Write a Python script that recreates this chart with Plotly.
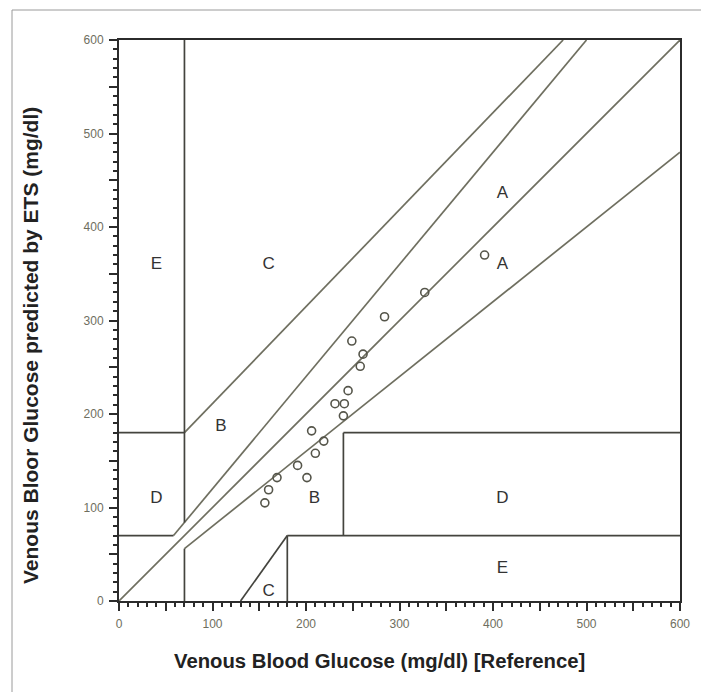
import plotly.graph_objects as go

# Measured data points (reference vs predicted)
ref_x = [156, 160, 169, 191, 201, 206, 210, 219, 231, 241, 240, 245, 249, 258, 261, 284, 327, 391]
pred_y = [105, 119, 132, 145, 132, 182, 158, 171, 211, 211, 198, 225, 278, 251, 264, 304, 330, 370]

# Clarke error grid zone boundaries (diagonal, olive lines)
diag_x = [[0, 600], [70, 600], [58.33, 500], [70, 475]]
diag_y = [[0, 600], [56, 480], [70, 600], [180, 600]]

# Zone boundaries (dark straight lines)
box_x = [[0, 58.33], [70, 70], [0, 70], [70, 70], [130, 180], [180, 180], [180, 600], [240, 240], [240, 600]]
box_y = [[70, 70], [84, 600], [180, 180], [0, 56], [0, 70], [0, 70], [70, 70], [70, 180], [180, 180]]

# Zone labels
zone_text = ["E", "C", "A", "A", "B", "D", "B", "D", "E", "C"]
zone_x = [40, 160, 410, 410, 109, 40, 209, 410, 410, 160]
zone_y = [360, 360, 436, 360, 186, 109, 109, 109, 35, 10]

tick_vals = list(range(0, 601, 50))
tick_text = [str(v) if v % 100 == 0 else "" for v in tick_vals]


def join(xs, ys):
    X, Y = [], []
    for a, b in zip(xs, ys):
        X += a + [None]
        Y += b + [None]
    return X, Y


fig = go.Figure()
dx, dy = join(diag_x, diag_y)
fig.add_trace(go.Scatter(x=dx, y=dy, mode="lines",
                         line=dict(color="#6f6f60", width=1.7), hoverinfo="skip"))
bx, by = join(box_x, box_y)
fig.add_trace(go.Scatter(x=bx, y=by, mode="lines",
                         line=dict(color="#44443e", width=1.7), hoverinfo="skip"))
fig.add_trace(go.Scatter(x=ref_x, y=pred_y, mode="markers",
                         marker=dict(symbol="circle-open", size=8,
                                     line=dict(color="#55554a", width=1.6),
                                     color="#55554a")))
fig.add_trace(go.Scatter(x=zone_x, y=zone_y, mode="text", text=zone_text,
                         textfont=dict(family="Liberation Sans", size=17, color="#333333"),
                         hoverinfo="skip"))

axis_common = dict(range=[0, 600], showgrid=False, zeroline=False,
                   showline=True, linecolor="#2b2b2b", linewidth=2, mirror=True,
                   ticks="outside", ticklen=8, tickwidth=2, tickcolor="#2b2b2b",
                   tickvals=tick_vals, ticktext=tick_text,
                   tickfont=dict(family="Liberation Sans", size=12, color="#6e6e5e"),
                   minor=dict(tickmode="linear", tick0=0, dtick=10, ticks="outside",
                              ticklen=4, tickwidth=1.5, tickcolor="#2b2b2b", showgrid=False),
                   fixedrange=True)

# page body adds an 8px offset; plot area in window: x 119-680, y 40-601
OFF = 8
fig.update_layout(
    width=709 - OFF, height=692 - OFF,
    margin=dict(l=119 - OFF, r=29, t=40 - OFF, b=91),
    paper_bgcolor="white", plot_bgcolor="white",
    showlegend=False,
    xaxis=dict(**axis_common, ticklabelstandoff=3),
    yaxis=dict(**axis_common, ticklabelstandoff=3),
    annotations=[
        dict(text="<b>Venous Blood Glucose (mg/dl) [Reference]</b>", xref="paper", yref="paper",
             x=(379 - 119) / 561, y=(601 - 661) / 561, xanchor="center", yanchor="middle",
             showarrow=False, font=dict(family="Liberation Sans", size=20.3, color="#222222")),
        dict(text="<b>Venous Bloor Glucose predicted by ETS (mg/dl)</b>", xref="paper", yref="paper",
             x=(30 - 119) / 561, y=(601 - 346) / 561, xanchor="center", yanchor="middle",
             textangle=-90, showarrow=False,
             font=dict(family="Liberation Sans", size=21, color="#222222")),
    ],
    shapes=[
        dict(type="rect", xref="paper", yref="paper",
             x0=(12 - 119) / 561, x1=(705 - 119) / 561,
             y0=(601 - 720) / 561, y1=(601 - 10) / 561,
             line=dict(color="#9a9a9a", width=1), layer="below"),
    ],
)

fig.write_html("out.html")
